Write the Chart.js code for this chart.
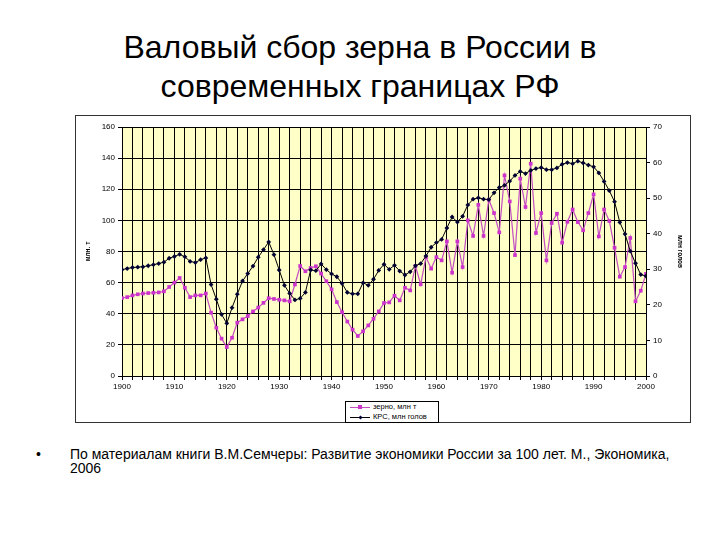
<!DOCTYPE html>
<html lang="ru">
<head>
  <meta charset="UTF-8">
  <title>Валовый сбор зерна в России</title>
  <script src="https://cdn.jsdelivr.net/npm/chart.js"></script>
  <style>
    body {
      margin: 0;
      width: 720px;
      height: 540px;
      background: #fff;
      font-family: "Liberation Sans", Arial, sans-serif;
      position: relative;
      overflow: hidden;
    }
    .slide-title {
      position: absolute;
      left: 0;
      top: 28px;
      width: 720px;
      text-align: center;
      font-size: 32px;
      line-height: 39px;
      color: #000;
    }
    .frame {
      position: absolute;
      left: 75px;
      top: 115px;
      width: 616px;
      height: 308px;
      border: 1px solid #333;
      box-sizing: border-box;
    }
    .chart-box {
      position: relative;
      width: 614px;
      height: 306px;
    }
    /* legend box like the excel one */
    .legend {
      position: absolute;
      left: 345px;
      top: 401px;
      width: 94px;
      height: 22px;
      border: 1px solid #000;
      box-sizing: border-box;
      background: #fff;
      font-size: 7.5px;
      line-height: 10px;
    }
    .legend .row {
      position: relative;
      height: 10px;
      padding-left: 27px;
      white-space: nowrap;
    }
    .legend .ln {
      position: absolute;
      left: 4px;
      top: 5px;
      width: 20px;
      height: 1px;
    }
    .legend .mk {
      position: absolute;
      left: 12px;
      top: 3px;
      width: 4px;
      height: 4px;
    }
    .legend .dia {
      transform: rotate(45deg);
      width: 3px;
      height: 3px;
      left: 12.5px;
      top: 3.5px;
    }
    .note {
      position: absolute;
      left: 36px;
      top: 447px;
      font-size: 14px;
      line-height: 14px;
      color: #000;
      white-space: nowrap;
    }
    .note .bullet {
      position: absolute;
      left: 0;
      top: 0;
    }
    .note .txt {
      margin-left: 34px;
    }
  </style>
</head>
<body>
  <div class="slide-title">Валовый сбор зерна в России в<br>современных границах РФ</div>

  <div class="frame">
    <div class="chart-box">
      <canvas id="grainChart"></canvas>
    </div>
  </div>

  <div class="legend">
    <div class="row"><i class="ln" style="background:#c34fc3"></i><i class="mk" style="background:#cc33cc"></i>зерно, млн т</div>
    <div class="row"><i class="ln" style="background:#000"></i><i class="mk dia" style="background:#000033"></i>КРС, млн голов</div>
  </div>

  <div class="note">
    <span class="bullet">•</span>
    <div class="txt">По материалам книги В.М.Семчеры: Развитие экономики России за 100 лет. М., Экономика,<br>2006</div>
  </div>

<script>
  // years on the x axis
  const years = [
    1900, 1901, 1902, 1903, 1904, 1905, 1906, 1907, 1908, 1909,
    1910, 1911, 1912, 1913, 1914, 1915, 1916, 1917, 1918, 1919,
    1920, 1921, 1922, 1923, 1924, 1925, 1926, 1927, 1928, 1929,
    1930, 1931, 1932, 1933, 1934, 1935, 1936, 1937, 1938, 1939,
    1940, 1941, 1942, 1943, 1944, 1945, 1946, 1947, 1948, 1949,
    1950, 1951, 1952, 1953, 1954, 1955, 1956, 1957, 1958, 1959,
    1960, 1961, 1962, 1963, 1964, 1965, 1966, 1967, 1968, 1969,
    1970, 1971, 1972, 1973, 1974, 1975, 1976, 1977, 1978, 1979,
    1980, 1981, 1982, 1983, 1984, 1985, 1986, 1987, 1988, 1989,
    1990, 1991, 1992, 1993, 1994, 1995, 1996, 1997, 1998, 1999,
    2000
  ];

  // grain harvest, mln t (left axis)
  const grain = [
    50.1, 50.7, 51.8, 52.5, 53.0, 53.3, 53.5, 53.7, 54.4, 57.2,
    60.0, 63.0, 56.7, 50.7, 51.8, 51.8, 53.0, 40.7, 31.0, 24.0,
    18.6, 24.6, 34.3, 36.4, 38.5, 41.5, 44.0, 47.0, 50.0, 49.5,
    49.0, 48.6, 48.0, 58.8, 70.7, 67.3, 69.4, 70.5, 65.8, 60.9,
    55.7, 47.5, 41.0, 35.0, 29.8, 25.7, 28.7, 32.5, 36.8, 41.5,
    46.9, 47.3, 51.6, 48.6, 56.7, 55.0, 70.7, 58.9, 76.4, 69.0,
    76.4, 74.3, 86.5, 66.4, 86.5, 70.0, 100.0, 90.0, 110.0, 90.0,
    113.3, 104.7, 92.3, 128.9, 112.2, 77.7, 126.8, 108.6, 136.4, 91.9,
    104.7, 74.3, 98.3, 104.3, 85.7, 99.1, 107.0, 98.9, 93.6, 104.7,
    116.7, 89.7, 107.0, 99.6, 82.4, 63.8, 70.0, 88.7, 48.0, 54.8,
    65.7
  ];

  // cattle, mln head (right axis)
  const cattle = [
    29.9, 30.2, 30.5, 30.6, 30.7, 31.0, 31.3, 31.6, 32.0, 33.1,
    33.6, 34.2, 33.5, 32.2, 31.9, 32.7, 33.2, 25.7, 21.6, 17.3,
    14.8, 19.2, 23.0, 26.7, 28.8, 30.9, 33.4, 35.5, 37.7, 34.1,
    29.8, 25.5, 23.2, 21.4, 21.8, 23.5, 29.8, 29.6, 31.5, 29.9,
    28.7, 27.9, 26.0, 23.5, 23.1, 23.1, 26.2, 25.5, 27.2, 29.7,
    31.4, 30.0, 31.1, 29.5, 28.4, 29.3, 31.0, 31.6, 33.7, 36.2,
    37.5, 38.4, 41.6, 44.7, 43.3, 44.9, 48.1, 49.7, 50.1, 49.7,
    49.6, 51.5, 53.0, 53.6, 54.8, 56.4, 57.5, 56.9, 57.8, 58.3,
    58.6, 58.0, 58.0, 58.5, 59.5, 60.0, 59.7, 60.4, 59.9, 59.3,
    58.8, 57.1, 54.7, 52.1, 49.0, 43.2, 39.9, 35.1, 31.7, 28.5,
    28.1
  ];

  const leftTicks = { min: 0, max: 160, step: 20 };
  const rightTicks = { min: 0, max: 70, step: 10 };

  // pale yellow plot area
  const plotBg = {
    id: 'plotBg',
    beforeDraw(chart) {
      const a = chart.chartArea;
      const ctx = chart.ctx;
      ctx.save();
      ctx.fillStyle = '#ffffc8';
      ctx.fillRect(a.left, a.top, a.right - a.left, a.bottom - a.top);
      ctx.restore();
    }
  };

  const tickFont = { family: '"Liberation Sans", Arial, sans-serif', size: 8 };

  new Chart(document.getElementById('grainChart'), {
    type: 'line',
    data: {
      datasets: [
        {
          label: 'зерно, млн т',
          data: years.map((y, i) => ({ x: y, y: grain[i] })),
          yAxisID: 'y',
          borderColor: '#c34fc3',
          borderWidth: 1.2,
          pointStyle: 'rect',
          pointRadius: 2.6,
          pointBackgroundColor: '#cc33cc',
          pointBorderColor: '#cc33cc',
          pointBorderWidth: 0,
          tension: 0,
          order: 2
        },
        {
          label: 'КРС, млн голов',
          data: years.map((y, i) => ({ x: y, y: cattle[i] })),
          yAxisID: 'y1',
          borderColor: '#000',
          borderWidth: 1,
          pointStyle: 'rectRot',
          pointRadius: 2.4,
          pointBackgroundColor: '#000033',
          pointBorderColor: '#000033',
          pointBorderWidth: 0,
          tension: 0,
          order: 1
        }
      ]
    },
    options: {
      responsive: true,
      maintainAspectRatio: false,
      animation: false,
      layout: { padding: { left: 8, right: 6, top: 11, bottom: 0 } },
      plugins: {
        legend: { display: false },
        tooltip: { enabled: false }
      },
      scales: {
        x: {
          type: 'linear',
          min: years[0],
          max: years[years.length - 1],
          ticks: {
            stepSize: 2,
            autoSkip: false,
            maxRotation: 0,
            color: '#000',
            font: tickFont,
            padding: 2,
            callback: v => (v % 10 === 0 ? String(v) : '')
          },
          grid: { color: '#000', lineWidth: 1, tickLength: 4, tickColor: '#000' },
          border: { color: '#000' },
          afterFit(scale) { scale.height = 46; }
        },
        y: {
          position: 'left',
          min: leftTicks.min,
          max: leftTicks.max,
          ticks: { stepSize: leftTicks.step, color: '#000', font: tickFont, padding: 3 },
          grid: { color: '#000', lineWidth: 1, tickLength: 4, tickColor: '#000' },
          border: { color: '#000' },
          title: {
            display: true,
            text: 'млн. т',
            color: '#000',
            font: { family: tickFont.family, size: 6.5, weight: 'bold' },
            padding: 0
          },
          afterFit(scale) { scale.width = 38; }
        },
        y1: {
          position: 'right',
          min: rightTicks.min,
          max: rightTicks.max,
          ticks: { stepSize: rightTicks.step, color: '#000', font: tickFont, padding: 3 },
          grid: { drawOnChartArea: false, tickLength: 4, tickColor: '#000' },
          border: { color: '#000' },
          title: {
            display: true,
            text: 'млн голов',
            color: '#000',
            font: { family: tickFont.family, size: 6.5, weight: 'bold' },
            padding: 0
          },
          afterFit(scale) { scale.width = 38; }
        }
      }
    },
    plugins: [plotBg]
  });
</script>
</body>
</html>
